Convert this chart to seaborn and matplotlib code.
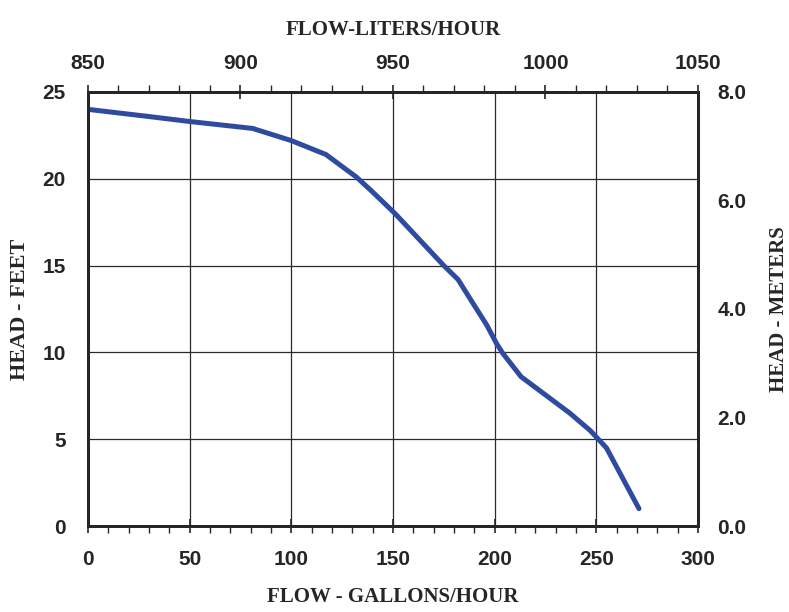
import numpy as np
import pandas as pd
import matplotlib.pyplot as plt
from matplotlib.ticker import MultipleLocator
import seaborn as sns

# pump curve
flow_gph = [0, 29, 50, 81, 100, 117, 132, 139, 151, 175, 182, 189.5, 196, 201, 204,
            213, 221, 237, 247, 255, 271]
head_ft = [24.0, 23.6, 23.3, 22.9, 22.2, 21.4, 20.1, 19.35, 18.0, 15.0, 14.2, 12.8, 11.6,
           10.5, 9.95, 8.6, 7.9, 6.5, 5.5, 4.5, 1.0]

gph_ticks = [0, 50, 100, 150, 200, 250, 300]
lph_ticks = [850, 900, 950, 1000, 1050]
ft_ticks = [0, 5, 10, 15, 20, 25]
m_ticks = [0.0, 2.0, 4.0, 6.0, 8.0]

LINE_COLOR = '#2f4b9f'
TICK_FONT = 'Liberation Sans'
LABEL_FONT = 'Liberation Serif'
TICK_SIZE = 15
LABEL_SIZE = 15

sns.set_style('white')
plt.rcParams['font.family'] = [TICK_FONT, 'DejaVu Sans']

df = pd.DataFrame({'flow': flow_gph, 'head': head_ft})

fig = plt.figure(figsize=(7.89, 6.12), dpi=100)
ax = fig.add_axes([0.1115, 0.1405, 0.7731, 0.7092])

sns.lineplot(data=df, x='flow', y='head', ax=ax, color=LINE_COLOR, sort=False,
             linewidth=3.6, solid_capstyle='round', solid_joinstyle='round', zorder=5)

ax.set_xlim(0, 300)
ax.set_ylim(0, 25)
ax.set_xticks(gph_ticks)
ax.set_yticks(ft_ticks)
ax.xaxis.set_minor_locator(MultipleLocator(10))
ax.grid(True, which='major', color='#2a2a2a', linewidth=0.9)
ax.tick_params(axis='x', which='major', direction='inout', length=10, width=1.2,
               labelsize=TICK_SIZE, pad=12)
ax.tick_params(axis='x', which='minor', direction='out', length=5, width=1.0)
ax.tick_params(axis='y', which='major', length=0, labelsize=TICK_SIZE, pad=16)
for lab in ax.get_xticklabels() + ax.get_yticklabels():
    lab.set_fontweight('bold')
for s in ax.spines.values():
    s.set_linewidth(2.0)
    s.set_color('black')

ax.set_xlabel('FLOW - GALLONS/HOUR', family=LABEL_FONT, fontweight='bold',
              fontsize=LABEL_SIZE, labelpad=13)
ax.set_ylabel('HEAD - FEET', family=LABEL_FONT, fontweight='bold',
              fontsize=16, labelpad=9)

# top axis in liters/hour
ax_top = ax.twiny()
ax_top.set_xlim(850, 1050)
ax_top.set_xticks(lph_ticks)
ax_top.xaxis.set_minor_locator(MultipleLocator(10))
ax_top.tick_params(axis='x', which='major', direction='inout', length=10, width=1.2,
                   labelsize=TICK_SIZE, pad=9)
ax_top.tick_params(axis='x', which='minor', direction='out', length=5, width=1.0)
for lab in ax_top.get_xticklabels():
    lab.set_fontweight('bold')
ax_top.set_xlabel('FLOW-LITERS/HOUR', family=LABEL_FONT, fontweight='bold',
                  fontsize=LABEL_SIZE, labelpad=13)
for s in ax_top.spines.values():
    s.set_linewidth(2.0)

# right axis in meters
ax_right = ax.twinx()
ax_right.set_ylim(0, 8)
ax_right.set_yticks(m_ticks)
ax_right.set_yticklabels([f'{v:.1f}' for v in m_ticks])
ax_right.tick_params(axis='y', length=0, labelsize=TICK_SIZE, pad=14)
for lab in ax_right.get_yticklabels():
    lab.set_fontweight('bold')
ax_right.set_ylabel('HEAD - METERS', family=LABEL_FONT, fontweight='bold',
                    fontsize=LABEL_SIZE, labelpad=16)
for s in ax_right.spines.values():
    s.set_linewidth(2.0)

fig.savefig('out.png', dpi=100, facecolor='white')
